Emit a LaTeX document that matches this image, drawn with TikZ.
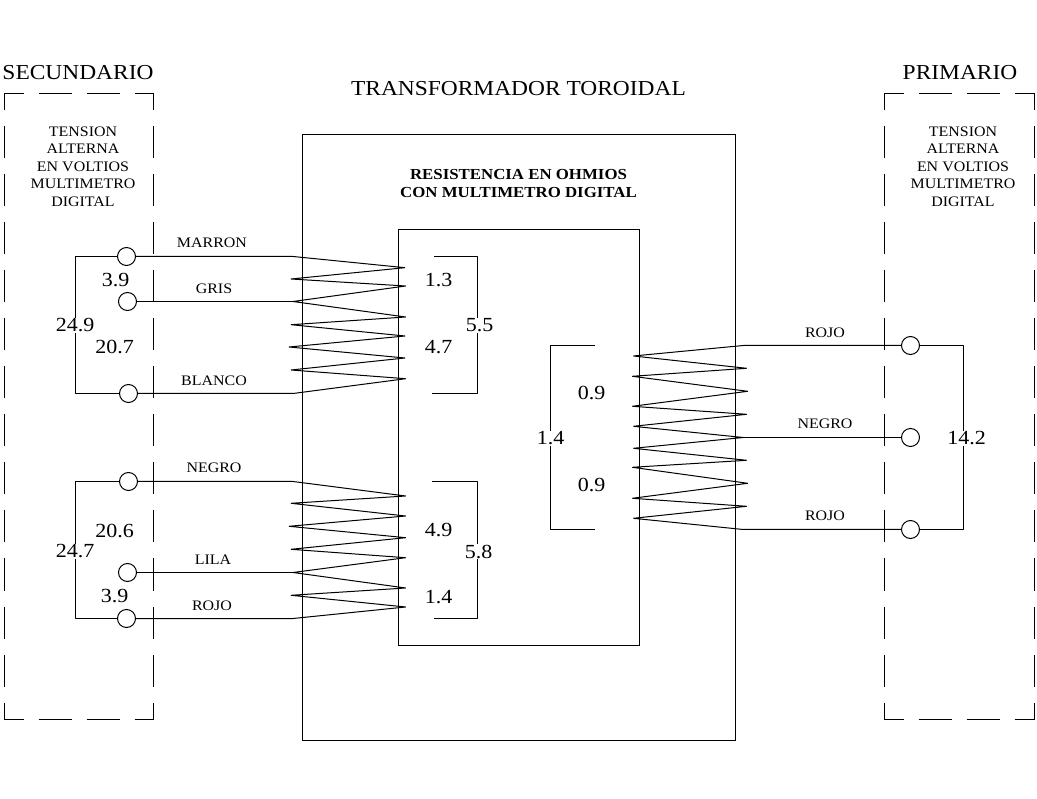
\documentclass[tikz,border=0pt]{standalone}
\usepackage{fontspec}
\setmainfont[FakeStretch=1.1]{Liberation Serif}
\tikzset{
  ln/.style={draw=black,line width=1pt,line cap=butt,line join=bevel},
  term/.style={circle,draw=black,line width=1pt,minimum size=18pt,inner sep=0pt,fill=white},
  dashh/.style={ln,dash pattern=on 33pt off 15pt,dash phase=14pt},
  dashv/.style={ln,dash pattern=on 32pt off 16pt,dash phase=15pt},
  big/.style={font=\fontsize{21.3}{24}\selectfont,inner sep=0pt},
  val/.style={font=\fontsize{20}{24}\selectfont,inner sep=1pt},
  small/.style={font=\fontsize{14.5}{17.4}\selectfont,inner sep=0pt,align=center},
  head/.style={font=\fontsize{15.3}{18}\selectfont\bfseries,inner sep=0pt,align=center}
}
\begin{document}
\begin{tikzpicture}[x=1pt,y=-1pt]
\useasboundingbox (0,0) rectangle (1037,799);
\fill[white] (0,0) rectangle (1037,799);
% dashed boxes
\foreach \xa/\xb in {4.5/153.5,884.5/1034.5}{
  \draw[dashh] (\xa,93.5) -- (\xb,93.5);
  \draw[dashh] (\xa,719.5) -- (\xb,719.5);
  \draw[dashv] (\xa,93.5) -- (\xa,719.5);
  \draw[dashv] (\xb,93.5) -- (\xb,719.5);
}
% rectangles
\node[draw=black,line width=1pt,minimum width=433pt,minimum height=606pt,inner sep=0pt] (core) at (519,437.5) {};
\node[draw=black,line width=1pt,minimum width=241pt,minimum height=416pt,inner sep=0pt] (inner) at (519,437.5) {};
% titles
\node[big] (tsec) at (78,73) {SECUNDARIO};
\node[big] (tpri) at (960,73) {PRIMARIO};
\node[big] (ttra) at (518.5,89) {TRANSFORMADOR TOROIDAL};
\node[head] (tres) at (518.5,183.5) {RESISTENCIA EN OHMIOS\\[0.5pt]CON MULTIMETRO DIGITAL};
\node[small] (tl) at (83,166.5) {TENSION\\ALTERNA\\EN VOLTIOS\\MULTIMETRO\\DIGITAL};
\node[small] (tr) at (963,166.5) {TENSION\\ALTERNA\\EN VOLTIOS\\MULTIMETRO\\DIGITAL};
% terminals
\node[term] (a1) at (126.5,256.5) {};
\node[term] (a2) at (127.5,301.5) {};
\node[term] (a3) at (128.5,393.5) {};
\node[term] (b1) at (128.5,481.5) {};
\node[term] (b2) at (127.5,572.5) {};
\node[term] (b3) at (126.5,618.5) {};
\node[term] (c1) at (910.5,345.5) {};
\node[term] (c2) at (910.5,437.5) {};
\node[term] (c3) at (910.5,529.5) {};
% value labels
\node[val] (v39a) at (115.5,280.5) {3.9};
\node[val] (v249) at (75,325.5) {24.9};
\node[val] (v207) at (114.5,346.5) {20.7};
\node[val] (v13) at (438.5,280.5) {1.3};
\node[val] (v47) at (438.5,347.5) {4.7};
\node[val] (v55) at (479.5,325.5) {5.5};
\node[val] (v206) at (114.5,530.5) {20.6};
\node[val] (v247) at (75,551.5) {24.7};
\node[val] (v39b) at (114.5,596.5) {3.9};
\node[val] (v49) at (438.5,530.5) {4.9};
\node[val] (v58) at (478.5,551.5) {5.8};
\node[val] (v14a) at (438.5,597.5) {1.4};
\node[val] (v09a) at (591.5,392.5) {0.9};
\node[val] (v09b) at (591.5,484.5) {0.9};
\node[val] (v14b) at (550.5,438.5) {1.4};
\node[val] (v142) at (966.5,438.5) {14.2};
% wire labels
\node[small] (wm) at (212,243) {MARRON};
\node[small] (wg) at (214,289) {GRIS};
\node[small] (wb) at (214,381) {BLANCO};
\node[small] (wn) at (214,468) {NEGRO};
\node[small] (wl) at (213,560) {LILA};
\node[small] (wr) at (212,606) {ROJO};
\node[small] (xr) at (825,333) {ROJO};
\node[small] (xn) at (825,424) {NEGRO};
\node[small] (xs) at (825,516) {ROJO};
% terminal loops
\draw[ln] (a1.west) -- (75.5,256.5) -- (v249.north -| 75.5,256.5);
\draw[ln] (v249.south -| 75.5,393.5) -- (75.5,393.5) -- (a3.west);
\draw[ln] (b1.west) -- (75.5,481.5) -- (v247.north -| 75.5,481.5);
\draw[ln] (v247.south -| 75.5,618.5) -- (75.5,618.5) -- (b3.west);
\draw[ln] (c1.east) -- (963.5,345.5) -- (v142.north -| 963.5,345.5);
\draw[ln] (v142.south -| 963.5,529.5) -- (963.5,529.5) -- (c3.east);
% brackets
\draw[ln] (434,256.5) -- (477.5,256.5) -- (v55.north -| 477.5,256.5);
\draw[ln] (v55.south -| 477.5,393.5) -- (477.5,393.5) -- (432,393.5);
\draw[ln] (432,481.5) -- (477.5,481.5) -- (v58.north -| 477.5,481.5);
\draw[ln] (v58.south -| 477.5,618.5) -- (477.5,618.5) -- (434,618.5);
\draw[ln] (595,345.5) -- (550.5,345.5) -- (v14b.north -| 550.5,345.5);
\draw[ln] (v14b.south -| 550.5,529.5) -- (550.5,529.5) -- (595,529.5);
% coils
\draw[ln] (a1.east) -- (293,256.5) -- (405,267.7) -- (291,279) -- (405.7,286) -- (293,301.5) -- (405.7,317) -- (291,324.7) -- (405,336) -- (289,347) -- (405,358) -- (291,370) -- (405.7,378.7) -- (293,393.5) -- (a3.east);
\draw[ln] (a2.east) -- (293,301.5);
\draw[ln] (b1.east) -- (293,481.5) -- (405.7,496) -- (291,503.3) -- (405.7,516) -- (289,526.3) -- (405.7,537.7) -- (291,549.3) -- (405.7,557.7) -- (293,572.5) -- (405.7,588) -- (291,595.3) -- (405.7,607) -- (293,618.5) -- (b3.east);
\draw[ln] (b2.east) -- (293,572.5);
\draw[ln] (c1.west) -- (743.3,345.5) -- (633.3,356) -- (746.7,368.3) -- (632.3,376.3) -- (747.7,391.3) -- (632.3,406.3) -- (746.7,414.3) -- (633.3,426.3) -- (743.3,437.5) -- (633.3,448.3) -- (746.7,460.3) -- (632.3,467.3) -- (747.7,483.3) -- (632.3,498.3) -- (746.7,506.3) -- (633.3,518.3) -- (743.3,529.5) -- (c3.west);
\draw[ln] (c2.west) -- (743.3,437.5);
\end{tikzpicture}
\end{document}
